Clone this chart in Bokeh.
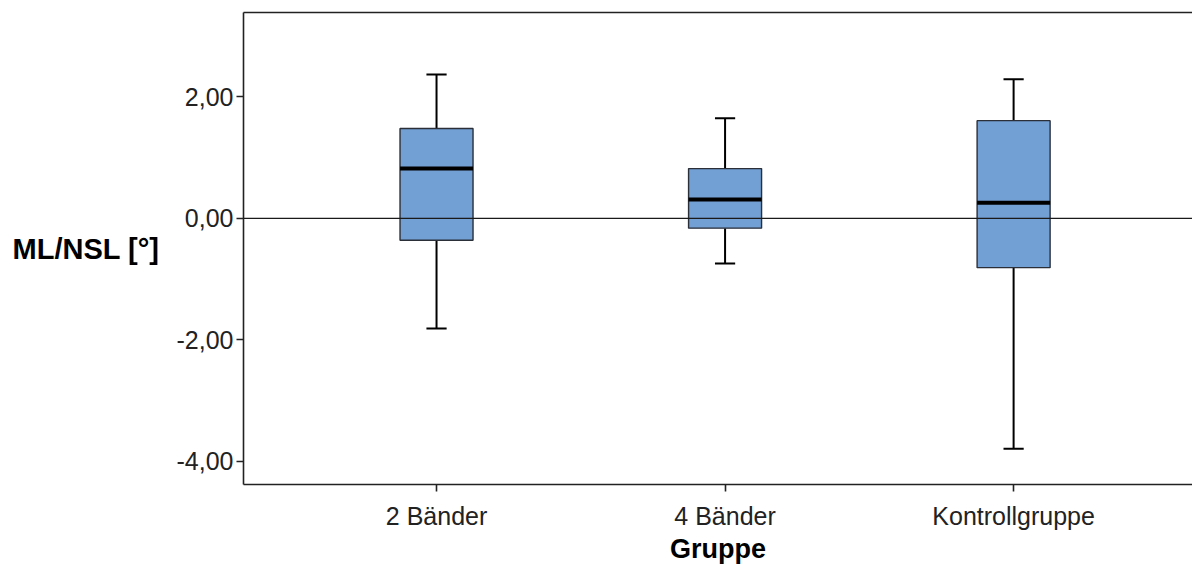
from bokeh.plotting import figure
from bokeh.models import Range1d, FixedTicker, Span, LinearAxis, ColumnDataSource
from bokeh.embed import file_html
from bokeh.resources import INLINE

# ---- data ----
categories = ["2 Bänder", "4 Bänder", "Kontrollgruppe"]
positions = [1, 2, 3]
whisker_low = [-1.81, -0.74, -3.79]
q1 = [-0.36, -0.16, -0.81]
median = [0.82, 0.31, 0.26]
q3 = [1.48, 0.82, 1.61]
whisker_high = [2.37, 1.65, 2.29]
y_ticks = [-4, -2, 0, 2]
y_tick_labels = ["-4,00", "-2,00", "0,00", "2,00"]

BOX_W = 0.253
CAP_W = 0.07
FONT = "Liberation Sans"

src = ColumnDataSource(dict(
    x=positions, lo=whisker_low, q1=q1, med=median, q3=q3, hi=whisker_high,
    bx0=[p - BOX_W / 2 for p in positions], bx1=[p + BOX_W / 2 for p in positions],
    cx0=[p - CAP_W / 2 for p in positions], cx1=[p + CAP_W / 2 for p in positions],
))

p = figure(width=1192, height=568, output_backend="svg", toolbar_location=None,
           x_range=Range1d(0.331, 3.620), y_range=Range1d(-4.38, 3.39),
           min_border_left=243, min_border_top=12, min_border_bottom=84, min_border_right=0)
p.background_fill_color = "white"
p.border_fill_color = "white"
p.outline_line_color = None
p.xgrid.visible = False
p.ygrid.visible = False

# zero reference line
p.add_layout(Span(location=0, dimension="width", line_color="#1a1a1a", line_width=1.2))

# whiskers
p.segment(x0="x", x1="x", y0="q3", y1="hi", source=src, line_color="black", line_width=2)
p.segment(x0="x", x1="x", y0="lo", y1="q1", source=src, line_color="black", line_width=2)
p.segment(x0="cx0", x1="cx1", y0="hi", y1="hi", source=src, line_color="black", line_width=2)
p.segment(x0="cx0", x1="cx1", y0="lo", y1="lo", source=src, line_color="black", line_width=2)

# boxes
p.vbar(x="x", width=BOX_W, top="q3", bottom="q1", source=src,
       fill_color="#729fd4", line_color="#2b2f38", line_width=1.4)
# medians
p.segment(x0="bx0", x1="bx1", y0="med", y1="med", source=src, line_color="black", line_width=4)

# axes
for ax in (p.xaxis[0], p.yaxis[0]):
    ax.axis_line_color = "#222222"
    ax.axis_line_width = 1.6
    ax.major_tick_line_color = "#222222"
    ax.major_tick_line_width = 1.6
    ax.major_tick_in = 0
    ax.major_tick_out = 7
    ax.minor_tick_line_color = None
    ax.major_label_text_font = FONT
    ax.major_label_text_font_size = "25px"
    ax.major_label_text_color = "#222222"
    ax.axis_label_text_font = FONT
    ax.axis_label_text_font_style = "bold"
    ax.axis_label_text_color = "black"

p.xaxis.ticker = FixedTicker(ticks=positions)
p.xaxis.major_label_overrides = {pos: c for pos, c in zip(positions, categories)}
p.xaxis.axis_label = "Gruppe"
p.xaxis.axis_label_text_font_size = "27px"
p.xaxis.major_label_standoff = 10
p.xaxis.axis_label_standoff = 1

p.yaxis.ticker = FixedTicker(ticks=y_ticks)
p.yaxis.major_label_overrides = {t: l for t, l in zip(y_ticks, y_tick_labels)}
p.yaxis.major_label_standoff = 3
p.yaxis.axis_label = "ML/NSL [°]"
p.yaxis.axis_label_text_font_size = "29px"
p.yaxis.axis_label_standoff = 14
if "axis_label_orientation" in p.yaxis[0].properties():
    p.yaxis[0].axis_label_orientation = "horizontal"

# top border line (frame continues past the right edge of the picture)
top = LinearAxis(ticker=FixedTicker(ticks=[]), axis_line_color="#222222", axis_line_width=1.6,
                 major_tick_line_color=None, minor_tick_line_color=None,
                 major_label_text_font_size="0px")
p.add_layout(top, "above")

open("out.html", "w").write(file_html(p, INLINE))
